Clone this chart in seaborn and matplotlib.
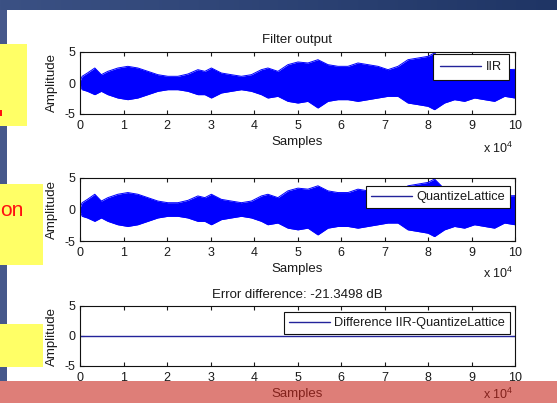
import numpy as np
import pandas as pd
import matplotlib
matplotlib.use("Agg")
import matplotlib.pyplot as plt
from matplotlib.patches import Rectangle
from matplotlib.lines import Line2D
from matplotlib.colors import LinearSegmentedColormap
import seaborn as sns

# ---------------- data (sample index in units of 1e4) ----------------
env_x = [0.0, 0.05, 0.17, 0.34, 0.49, 0.64, 0.87, 1.10, 1.33, 1.56, 1.79, 2.02,
         2.25, 2.48, 2.71, 2.87, 3.02, 3.25, 3.48, 3.71, 3.94, 4.17, 4.32, 4.55,
         4.78, 5.01, 5.24, 5.47, 5.70, 5.93, 6.16, 6.39, 6.62, 6.85, 7.08, 7.31,
         7.54, 7.77, 8.00, 8.15, 8.38, 8.61, 8.84, 9.07, 9.30, 9.53, 9.76, 10.0]
iir_upper = [0.27, 1.08, 1.61, 2.42, 1.34, 1.88, 2.42, 2.69, 2.42, 1.88, 1.34, 1.08,
             1.08, 1.45, 2.15, 1.88, 2.42, 1.61, 1.34, 1.08, 1.34, 2.15, 2.42, 1.88,
             2.96, 3.39, 3.23, 3.76, 2.96, 2.69, 2.69, 3.23, 2.96, 2.69, 2.15, 2.69,
             3.76, 4.03, 4.30, 4.84, 3.23, 2.69, 2.96, 2.42, 2.69, 2.96, 2.15, 2.20]
iir_lower = [-0.27, -1.08, -1.34, -1.88, -1.34, -1.88, -2.42, -2.69, -2.42, -1.88, -1.34, -1.08,
             -1.08, -1.34, -1.88, -1.88, -2.42, -1.61, -1.34, -1.08, -1.34, -1.88, -2.42, -2.15,
             -2.96, -3.23, -2.96, -4.03, -2.96, -2.69, -2.69, -2.96, -2.69, -2.42, -2.15, -2.15,
             -3.23, -3.49, -3.76, -4.30, -3.23, -2.69, -2.96, -2.42, -2.69, -2.96, -2.15, -2.42]
# Quantized lattice output is visually identical to the IIR output
lattice_upper = list(iir_upper)
lattice_lower = list(iir_lower)
diff_x = [0.0, 10.0]
diff_y = [0.0, 0.0]

x_ticks = [0, 1, 2, 3, 4, 5, 6, 7, 8, 9, 10]
y_ticks = [-5, 0, 5]
legend_labels = ["IIR", "QuantizeLattice", "Difference IIR-QuantizeLattice"]
title_top = "Filter output"
title_bottom = "Error difference: -21.3498 dB"

# ---------------- style ----------------
sns.set_style("ticks")
plt.rcParams.update({
    "font.family": ["Liberation Sans", "DejaVu Sans"],
    "mathtext.fontset": "custom",
    "mathtext.rm": "Liberation Sans",
    "axes.unicode_minus": False,
    "xtick.direction": "in",
    "ytick.direction": "in",
    "xtick.top": True,
    "ytick.right": True,
    "xtick.major.size": 3,
    "ytick.major.size": 3,
    "xtick.major.width": 0.8,
    "ytick.major.width": 0.8,
    "xtick.major.pad": 4.5,
    "ytick.major.pad": 3,
    "axes.linewidth": 0.8,
    "axes.edgecolor": "#111111",
    "text.color": "#1a1a1a",
    "xtick.color": "#1a1a1a",
    "ytick.color": "#1a1a1a",
    "axes.labelcolor": "#1a1a1a",
})

W, H = 557, 403
fig = plt.figure(figsize=(W / 100, H / 100), dpi=100)
fig.patch.set_facecolor("white")


def px_rect(x0, y0, x1, y1, **kw):
    r = Rectangle((x0 / W, 1 - y1 / H), (x1 - x0) / W, (y1 - y0) / H,
                  transform=fig.transFigure, **kw)
    fig.patches.append(r)
    return r


# slide decorations
gax = fig.add_axes([0, 1 - 10 / H, 1, 10 / H], zorder=-5)
grad = np.linspace(0, 1, 256)[None, :]
cm = LinearSegmentedColormap.from_list("band", ["#3b5184", "#1f3565"])
gax.imshow(grad, aspect="auto", cmap=cm, extent=[0, 1, 0, 1])
gax.set_axis_off()
px_rect(0, 10, 7, 381, color="#46588b", lw=0, zorder=-4)
for (bx0, by0, bx1, by1) in [(0, 44, 27, 126), (0, 184, 43, 265), (0, 324, 43, 367)]:
    px_rect(bx0, by0, bx1, by1, color="#ffff66", lw=0, zorder=5)
fig.text(0.5 / W, 1 - 216 / H, "on", color="#ff1010", fontsize=15,
         ha="left", va="baseline", zorder=6)
px_rect(0, 110, 2, 116, color="#ff1010", lw=0, zorder=6)

# ---------------- axes ----------------
axes_px = [(52, 114), (178, 241), (306, 366)]
axs = []
for (top, bot) in axes_px:
    ax = fig.add_axes([80 / W, 1 - bot / H, 435 / W, (bot - top) / H])
    axs.append(ax)

sig_color = "#0000ff"
leg_color = "#23239a"

for ax, up, lo in [(axs[0], iir_upper, iir_lower), (axs[1], lattice_upper, lattice_lower)]:
    ax.fill_between(env_x, lo, up, color=sig_color, linewidth=0, zorder=2)
    sns.lineplot(x=env_x, y=up, color=sig_color, lw=0.7, ax=ax, zorder=2)
    sns.lineplot(x=env_x, y=lo, color=sig_color, lw=0.7, ax=ax, zorder=2)

df_diff = pd.DataFrame({"x": diff_x, "y": diff_y})
sns.lineplot(data=df_diff, x="x", y="y", color=leg_color, lw=1.0, ax=axs[2])

leg_specs = [
    (axs[0], legend_labels[0], (0.9862, 0.9677), 0.55),
    (axs[1], legend_labels[1], (0.9885, 0.873), 0.4),
    (axs[2], legend_labels[2], (0.9885, 0.90), 0.4),
]
for ax, lab, anchor, bp in leg_specs:
    h = [Line2D([], [], color=leg_color, lw=1.0)]
    leg = ax.legend(h, [lab], loc="upper right", bbox_to_anchor=anchor,
                    borderaxespad=0, frameon=True, fancybox=False,
                    edgecolor="#111111", framealpha=1, facecolor="white",
                    handlelength=3.2, handletextpad=0.35, borderpad=bp,
                    fontsize=9.2)
    leg.get_frame().set_linewidth(0.8)

offset_y = [-0.56, -0.52, -0.47]
for ax, oy in zip(axs, offset_y):
    ax.set_xlim(0, 10)
    ax.set_ylim(-5, 5)
    ax.set_xticks(x_ticks)
    ax.set_yticks(y_ticks)
    ax.set_xticklabels([str(t) for t in x_ticks], fontsize=9)
    ax.set_yticklabels([str(t) for t in y_ticks], fontsize=9)
    ax.set_xlabel("Samples", fontsize=9.5, labelpad=3)
    ax.set_ylabel("Amplitude", fontsize=9.5, labelpad=5)
    ax.text(0.962, oy, r"x $\mathregular{10^4}$", transform=ax.transAxes,
            ha="center", va="center", fontsize=9)
    for s in ax.spines.values():
        s.set_visible(True)

axs[0].set_title(title_top, fontsize=9.5, pad=6.5)
axs[2].set_title(title_bottom, fontsize=9.5, pad=6)

# bottom translucent band of the slide
px_rect(0, 381, W, H, color=(200 / 255, 40 / 255, 30 / 255), alpha=0.6, lw=0, zorder=20)

fig.savefig("out.png", dpi=100)
